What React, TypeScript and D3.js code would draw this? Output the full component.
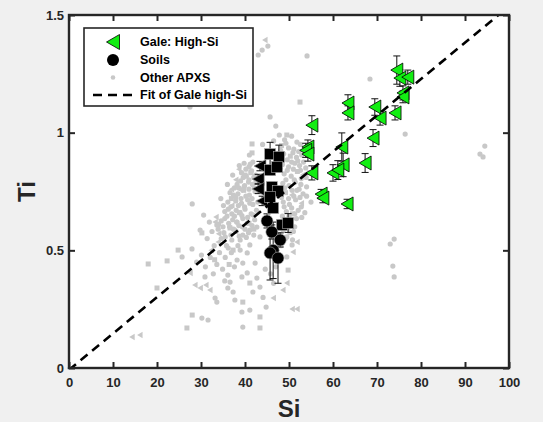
import * as d3 from 'd3';
import React, { useRef, useEffect } from 'react';

const W = 543;
const H = 422;

// Gale high-Si targets (green, with error bars)
const galeSi = [74.5, 75.2, 77.0, 75.9, 75.9, 63.4, 63.4, 69.5, 70.7, 74.1, 55.2, 69.1, 62.0, 54.3, 53.8, 54.3, 67.3, 55.2, 60.0, 62.3, 61.1, 57.3, 57.7, 63.2];
const galeTi = [1.266, 1.232, 1.236, 1.169, 1.152, 1.126, 1.084, 1.109, 1.062, 1.084, 1.032, 0.977, 0.939, 0.939, 0.925, 0.909, 0.871, 0.829, 0.829, 0.863, 0.841, 0.739, 0.722, 0.697];
const galeErr = [0.06, 0.035, 0.03, 0.03, 0.025, 0.035, 0.03, 0.035, 0.03, 0.03, 0.04, 0.036, 0.06, 0.03, 0.03, 0.03, 0.04, 0.03, 0.035, 0.05, 0.04, 0.02, 0.02, 0.02];

// Soils (black): three marker shapes
const soilTriSi = [43.4, 43.0, 43.0, 43.9];
const soilTriTi = [0.858, 0.803, 0.761, 0.710];
const soilTriErr = [0.02, 0.02, 0.02, 0.02];

const soilSqSi = [45.7, 47.7, 45.7, 47.3, 46.1, 47.5, 45.7, 46.4, 48.4, 49.8];
const soilSqTi = [0.909, 0.897, 0.841, 0.854, 0.769, 0.752, 0.727, 0.680, 0.608, 0.616];
const soilSqErr = [0.05, 0.05, 0.02, 0.02, 0.02, 0.02, 0.02, 0.02, 0.02, 0.04];

const soilCircSi = [45.0, 48.0, 46.1, 46.4, 45.7, 47.5];
const soilCircTi = [0.625, 0.544, 0.578, 0.50, 0.489, 0.467];
const soilCircErr = [0.03, 0.03, 0.03, 0.12, 0.115, 0.107];

// Other APXS (gray)
const grayCircles: [number, number][] = [
  [27.5, 1.109], [43.0, 1.330], [45.2, 1.368], [43.9, 1.351], [45.7, 1.067], [47.0, 1.028], [54.1, 1.326],
  [68.4, 1.228], [76.4, 0.994], [94.5, 0.943], [93.4, 0.909], [94.1, 0.897], [73.9, 0.548], [73.0, 0.527],
  [73.6, 0.433], [73.9, 0.387], [28.0, 0.697], [25.7, 0.472], [29.8, 0.586], [30.9, 0.387], [33.2, 0.297],
  [33.6, 0.280], [30.2, 0.212], [31.6, 0.204], [39.5, 0.174], [39.3, 0.238], [41.1, 0.246], [44.8, 0.259],
  [36.1, 0.395], [36.6, 0.365], [36.1, 0.340], [37.3, 0.323], [37.7, 0.289], [39.3, 0.387], [40.5, 0.404],
  [42.7, 0.382], [43.4, 0.344], [41.8, 0.323], [38.9, 0.501], [40.5, 0.489], [41.1, 0.523], [38.9, 0.544],
  [37.0, 0.544], [39.5, 0.565], [37.7, 0.586], [41.1, 0.586], [42.7, 0.599], [40.5, 0.616], [38.2, 0.620],
  [43.4, 0.557], [49.5, 0.472], [50.7, 0.523], [49.5, 0.557], [42.3, 0.446], [39.5, 0.446], [38.2, 0.459],
  [35.5, 0.557], [33.6, 0.608], [27.95, 0.506],
  [47.8, 0.99], [49.0, 0.97], [50.6, 0.985], [51.8, 0.96], [46.5, 0.965],
  [44.0, 0.95], [49.9, 0.935], [51.1, 0.93], [52.6, 0.95], [53.4, 0.925],
  [41.0, 0.905], [48.8, 0.91], [51.7, 0.895], [52.9, 0.905], [49.6, 0.885],
  [39.8, 0.87], [40.9, 0.855], [41.8, 0.875], [48.5, 0.865], [49.9, 0.855], [51.3, 0.87], [52.4, 0.86], [53.8, 0.85],
  [39.2, 0.83], [40.3, 0.815], [41.5, 0.838], [48.9, 0.825], [50.5, 0.815], [54.5, 0.83], [42.4, 0.82],
  [38.2, 0.78], [39.0, 0.795], [39.9, 0.775], [40.8, 0.79], [41.7, 0.78], [42.5, 0.795], [48.6, 0.785],
  [50.0, 0.775], [51.4, 0.79], [52.7, 0.78], [54.0, 0.77], [37.6, 0.765],
  [37.4, 0.735], [38.4, 0.74], [41.0, 0.735], [42.3, 0.75], [51.8, 0.755], [53.2, 0.74], [36.6, 0.745],
  [36.1, 0.705], [37.9, 0.71], [39.2, 0.70], [40.6, 0.715], [41.8, 0.695], [48.7, 0.705], [50.1, 0.695], [51.5, 0.715], [55.0, 0.705],
  [35.4, 0.665], [36.2, 0.675], [37.0, 0.655], [38.0, 0.67], [40.0, 0.675], [41.4, 0.655], [42.6, 0.67],
  [49.4, 0.665], [52.1, 0.67], [53.6, 0.66], [39.3, 0.648],
  [34.6, 0.625], [35.4, 0.635], [36.3, 0.615], [37.2, 0.63], [38.1, 0.62], [39.5, 0.635], [42.2, 0.63],
  [49.0, 0.625], [50.4, 0.615], [51.7, 0.635], [34.0, 0.61],
  [33.9, 0.59], [35.2, 0.575], [38.0, 0.58], [39.4, 0.60], [40.8, 0.575], [48.7, 0.585], [51.3, 0.60],
  [38.7, 0.86], [40.2, 0.845], [41.2, 0.866], [39.6, 0.81], [40.9, 0.8], [42.0, 0.81], [38.6, 0.765],
  [39.8, 0.77], [40.9, 0.76], [42.1, 0.765], [37.9, 0.725], [39.1, 0.72], [40.2, 0.73], [41.6, 0.72],
  [36.8, 0.685], [38.5, 0.69], [39.9, 0.685], [41.1, 0.70], [42.9, 0.705], [35.9, 0.645], [37.6, 0.645],
  [38.9, 0.66], [40.6, 0.64], [41.9, 0.65], [35.0, 0.6], [36.5, 0.6], [37.4, 0.59], [38.6, 0.605],
  [40.0, 0.59], [41.6, 0.605], [36.8, 0.565], [38.7, 0.56], [40.3, 0.555], [42.0, 0.565],
  [48.1, 0.925], [49.3, 0.955], [50.9, 0.915], [52.2, 0.92], [48.2, 0.88], [50.6, 0.875], [52.0, 0.88],
  [53.3, 0.875], [49.6, 0.84], [51.0, 0.845], [52.6, 0.84], [53.9, 0.81], [49.3, 0.80], [51.2, 0.80],
  [52.8, 0.805], [49.0, 0.765], [50.7, 0.755], [52.3, 0.76], [48.3, 0.725], [49.9, 0.72], [51.1, 0.73],
  [52.5, 0.725], [54.0, 0.73], [48.9, 0.685], [50.6, 0.68], [52.8, 0.685], [48.5, 0.645], [50.0, 0.645],
  [51.3, 0.655], [52.9, 0.64], [48.4, 0.605], [49.8, 0.595], [51.0, 0.58], [49.2, 0.55], [50.8, 0.545],
  [32.5, 0.58], [31.4, 0.55], [33.0, 0.52], [34.6, 0.55], [35.8, 0.52], [34.2, 0.49], [32.1, 0.47],
  [35.5, 0.47], [36.9, 0.49], [33.6, 0.44], [31.0, 0.43], [34.9, 0.42], [37.6, 0.43], [30.1, 0.48],
  [29.0, 0.45], [32.8, 0.40], [35.4, 0.37], [38.4, 0.52], [36.2, 0.51], [31.9, 0.62], [30.6, 0.65],
  [35.1, 0.69], [34.5, 0.72], [36.0, 0.78], [37.2, 0.82], [44.6, 0.42], [45.8, 0.40], [47.0, 0.43],
  [46.5, 0.36], [44.1, 0.30], [47.8, 0.47], [48.2, 0.52],
];

const graySquares: [number, number][] = [
  [18.0, 0.442], [20.0, 0.340], [22.3, 0.455], [24.8, 0.501], [28.0, 0.225], [26.8, 0.170], [43.4, 0.170],
  [43.4, 0.217], [41.6, 0.952], [41.6, 0.914], [52.5, 1.130], [49.5, 0.990], [40.0, 0.82], [39.7, 0.755],
  [41.3, 0.83], [48.3, 0.945], [50.3, 0.90], [51.9, 0.835], [49.2, 0.745], [36.9, 0.72], [38.7, 0.66],
  [40.9, 0.615], [50.8, 0.655], [36.6, 0.595], [42.0, 0.59], [50.2, 0.575], [37.3, 0.501], [41.1, 0.361],
  [39.5, 0.280], [30.2, 0.574], [49.8, 0.416], [33.1, 0.46], [36.4, 0.44],
];

const grayTriangles: [number, number][] = [
  [14.3, 0.132], [16.1, 0.140], [27.5, 0.404], [28.6, 0.353], [29.8, 0.340], [31.1, 0.353], [32.0, 0.331],
  [33.4, 0.642], [33.2, 0.620], [46.4, 0.297], [48.6, 0.331], [50.9, 0.493], [51.8, 0.535], [50.7, 0.251],
  [51.8, 0.251], [33.9, 0.535], [44.5, 1.394], [38.6, 0.845], [37.9, 0.80], [38.9, 0.757], [36.9, 0.76],
  [37.0, 0.69], [50.6, 0.735], [52.8, 0.70], [53.1, 0.82], [49.5, 0.361], [32.3, 0.50], [34.0, 0.57],
];

// linear fit of Gale high-Si
const fitSlope = 0.01545;
const fitIntercept = -0.008;
const fitRange = [0, 100];

const xTicks = [0, 10, 20, 30, 40, 50, 60, 70, 80, 90, 100];
const yTicks = [0, 0.5, 1, 1.5];

const legendLabels = ['Gale: High-Si', 'Soils', 'Other APXS', 'Fit of Gale high-Si'];

const FONT = "'Liberation Sans', Arial, Helvetica, sans-serif";
const AXIS = '#262626';
const GREEN = '#12ee12';
const GRAY = '#c8c8c8';

const triPath = (h: number, w: number) => `M${-w / 2},0L${w / 2},${-h / 2}L${w / 2},${h / 2}Z`;

function App() {
  const ref = useRef<SVGSVGElement>(null);

  useEffect(() => {
    const margin = { top: 15, right: 34, bottom: 54, left: 69 };
    const svg = d3.select(ref.current);
    svg.selectAll('*').remove();

    const x = d3.scaleLinear().domain([0, 100]).range([margin.left, W - margin.right]);
    const y = d3.scaleLinear().domain([0, 1.5]).range([H - margin.bottom, margin.top]);
    const [x0, x1] = x.range();
    const [y0, y1] = y.range();

    svg.append('rect').attr('width', W).attr('height', H).attr('fill', '#f0f0f0');
    svg.append('rect').attr('x', x0).attr('y', y1).attr('width', x1 - x0).attr('height', y0 - y1).attr('fill', '#fff');

    svg.append('clipPath').attr('id', 'plotclip')
      .append('rect').attr('x', x0).attr('y', y1).attr('width', x1 - x0).attr('height', y0 - y1);

    const plot = svg.append('g').attr('clip-path', 'url(#plotclip)');

    // gray points
    plot.append('g').selectAll('circle').data(grayCircles).enter().append('circle')
      .attr('cx', d => x(d[0])).attr('cy', d => y(d[1])).attr('r', 2.6).attr('fill', GRAY);
    plot.append('g').selectAll('rect').data(graySquares).enter().append('rect')
      .attr('x', d => x(d[0]) - 2.5).attr('y', d => y(d[1]) - 2.5).attr('width', 5).attr('height', 5).attr('fill', GRAY);
    plot.append('g').selectAll('path').data(grayTriangles).enter().append('path')
      .attr('d', triPath(6.5, 5.5))
      .attr('transform', d => `translate(${x(d[0])},${y(d[1])})`).attr('fill', GRAY);

    const errBars = (g: any, xs: number[], ys: number[], es: number[]) => {
      const idx = d3.range(xs.length);
      const eg = g.append('g').attr('stroke', '#111').attr('stroke-width', 1).attr('fill', 'none');
      eg.selectAll('path').data(idx).enter().append('path')
        .attr('d', (i: number) => {
          const cx = x(xs[i]);
          const top = y(ys[i] + es[i]);
          const bot = y(ys[i] - es[i]);
          return `M${cx},${top}V${bot}M${cx - 3.5},${top}H${cx + 3.5}M${cx - 3.5},${bot}H${cx + 3.5}`;
        });
    };

    // soils
    const soils = plot.append('g');
    errBars(soils, soilTriSi, soilTriTi, soilTriErr);
    errBars(soils, soilSqSi, soilSqTi, soilSqErr);
    errBars(soils, soilCircSi, soilCircTi, soilCircErr);
    soils.append('g').selectAll('path').data(d3.range(soilTriSi.length)).enter().append('path')
      .attr('d', triPath(13, 12))
      .attr('transform', i => `translate(${x(soilTriSi[i])},${y(soilTriTi[i])})`)
      .attr('fill', '#000').attr('stroke', '#999').attr('stroke-width', 0.6);
    soils.append('g').selectAll('rect').data(d3.range(soilSqSi.length)).enter().append('rect')
      .attr('x', i => x(soilSqSi[i]) - 5.5).attr('y', i => y(soilSqTi[i]) - 5.5)
      .attr('width', 11).attr('height', 11)
      .attr('fill', '#000').attr('stroke', '#aaa').attr('stroke-width', 0.6);
    soils.append('g').selectAll('circle').data(d3.range(soilCircSi.length)).enter().append('circle')
      .attr('cx', i => x(soilCircSi[i])).attr('cy', i => y(soilCircTi[i])).attr('r', 6)
      .attr('fill', '#000').attr('stroke', '#aaa').attr('stroke-width', 0.6);

    // gale
    const gale = plot.append('g');
    errBars(gale, galeSi, galeTi, galeErr);
    gale.append('g').selectAll('path').data(d3.range(galeSi.length)).enter().append('path')
      .attr('d', triPath(14, 12))
      .attr('transform', i => `translate(${x(galeSi[i])},${y(galeTi[i])})`)
      .attr('fill', GREEN).attr('stroke', '#000').attr('stroke-width', 0.8);

    // fit line
    const line = d3.line<number>().x(d => x(d)).y(d => y(fitIntercept + fitSlope * d));
    plot.append('path').datum(fitRange).attr('d', line)
      .attr('fill', 'none').attr('stroke', '#000').attr('stroke-width', 2.6).attr('stroke-dasharray', '9,6');

    // small blue mark at origin
    svg.append('circle').attr('cx', x(0)).attr('cy', y(0)).attr('r', 1.3).attr('fill', '#0072bd');

    // axes
    const styleAxis = (g: any) => {
      g.select('.domain').remove();
      g.selectAll('line').attr('stroke', AXIS).attr('stroke-width', 2);
      g.selectAll('text').attr('fill', AXIS).attr('font-family', FONT).attr('font-weight', 'bold').attr('font-size', 13);
    };
    svg.append('g').attr('transform', `translate(0,${y0})`)
      .call(d3.axisBottom(x).tickValues(xTicks).tickSizeInner(-6).tickSizeOuter(0).tickPadding(10).tickFormat(d3.format('d')))
      .call(styleAxis);
    svg.append('g').attr('transform', `translate(0,${y1})`)
      .call(d3.axisTop(x).tickValues(xTicks).tickSizeInner(-6).tickSizeOuter(0).tickFormat(() => ''))
      .call(styleAxis);
    svg.append('g').attr('transform', `translate(${x0},0)`)
      .call(d3.axisLeft(y).tickValues(yTicks).tickSizeInner(-6).tickSizeOuter(0).tickPadding(5).tickFormat(d => String(d)))
      .call(styleAxis);
    svg.append('g').attr('transform', `translate(${x1},0)`)
      .call(d3.axisRight(y).tickValues(yTicks).tickSizeInner(-6).tickSizeOuter(0).tickFormat(() => ''))
      .call(styleAxis);

    svg.append('rect').attr('x', x0).attr('y', y1).attr('width', x1 - x0).attr('height', y0 - y1)
      .attr('fill', 'none').attr('stroke', AXIS).attr('stroke-width', 2.4);

    // axis labels
    svg.append('text').attr('x', (x0 + x1) / 2).attr('y', 417).attr('text-anchor', 'middle')
      .attr('font-family', FONT).attr('font-weight', 'bold').attr('font-size', 24).attr('fill', AXIS).text('Si');
    svg.append('text').attr('transform', `translate(35,${(y0 + y1) / 2}) rotate(-90)`).attr('text-anchor', 'middle')
      .attr('font-family', FONT).attr('font-weight', 'bold').attr('font-size', 24).attr('fill', AXIS).text('Ti');

    // legend
    const lg = svg.append('g').attr('transform', 'translate(84,28)');
    lg.append('rect').attr('width', 169).attr('height', 78).attr('fill', '#fff').attr('stroke', AXIS).attr('stroke-width', 1.6);
    const rows = [14, 32, 49.5, 67];
    lg.selectAll('text').data(legendLabels).enter().append('text')
      .attr('x', 56).attr('y', (d, i) => rows[i]).attr('dy', '0.35em')
      .attr('font-family', FONT).attr('font-weight', 'bold').attr('font-size', 12.5).attr('fill', '#000')
      .text(d => d);
    lg.append('path').attr('d', triPath(15, 13)).attr('transform', `translate(29,${rows[0]})`)
      .attr('fill', GREEN).attr('stroke', '#000').attr('stroke-width', 0.8);
    lg.append('circle').attr('cx', 29).attr('cy', rows[1]).attr('r', 6).attr('fill', '#000');
    lg.append('circle').attr('cx', 29).attr('cy', rows[2]).attr('r', 2.3).attr('fill', GRAY);
    lg.append('line').attr('x1', 9).attr('x2', 53).attr('y1', rows[3]).attr('y2', rows[3])
      .attr('stroke', '#000').attr('stroke-width', 2.6).attr('stroke-dasharray', '9,6');
  }, []);

  return (
    <svg ref={ref} width={W} height={H} style={{ position: 'fixed', left: 0, top: 0, display: 'block' }} />
  );
}

export default App;
